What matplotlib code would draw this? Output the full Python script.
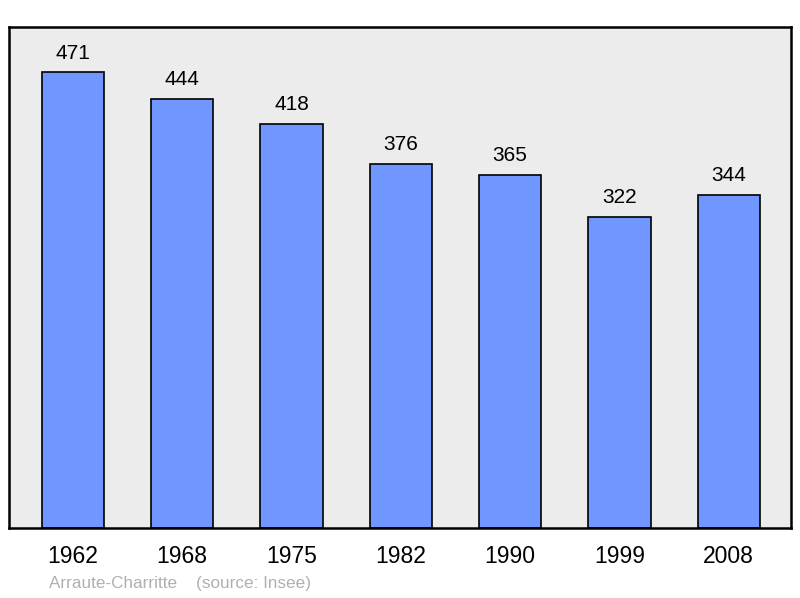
import numpy as np
import matplotlib.pyplot as plt

years = ['1962', '1968', '1975', '1982', '1990', '1999', '2008']
population = [471, 444, 418, 376, 365, 322, 344]

plt.rcParams['font.family'] = ['Liberation Sans', 'DejaVu Sans']

fig = plt.figure(figsize=(8, 5.98), dpi=100)
ax = fig.add_axes([0.01125, 0.117, 0.9775, 0.838])
ax.set_facecolor('#ececec')

x = np.arange(len(years))
bars = ax.bar(x, population, width=0.57, color='#7097ff', edgecolor='black', linewidth=1.2)

ymax = max(population) * 1.1
ax.set_ylim(0, ymax)
ax.set_xlim(-0.585, 6.57)

# value labels above bars
for xi, v in zip(x, population):
    ax.annotate(str(v), (xi, v), xytext=(0, 14), textcoords='offset points',
                ha='center', va='center', fontsize=15)

ax.set_yticks([])
ax.set_xticks(x)
ax.set_xticklabels(years, fontsize=16.5)
ax.tick_params(axis='x', length=0, pad=12)
for s in ax.spines.values():
    s.set_linewidth(1.8)

fig.text(0.061, 0.016, 'Arraute-Charritte    (source: Insee)', color='#b0b0b0', fontsize=12.3)

fig.savefig('out.png', dpi=100)
